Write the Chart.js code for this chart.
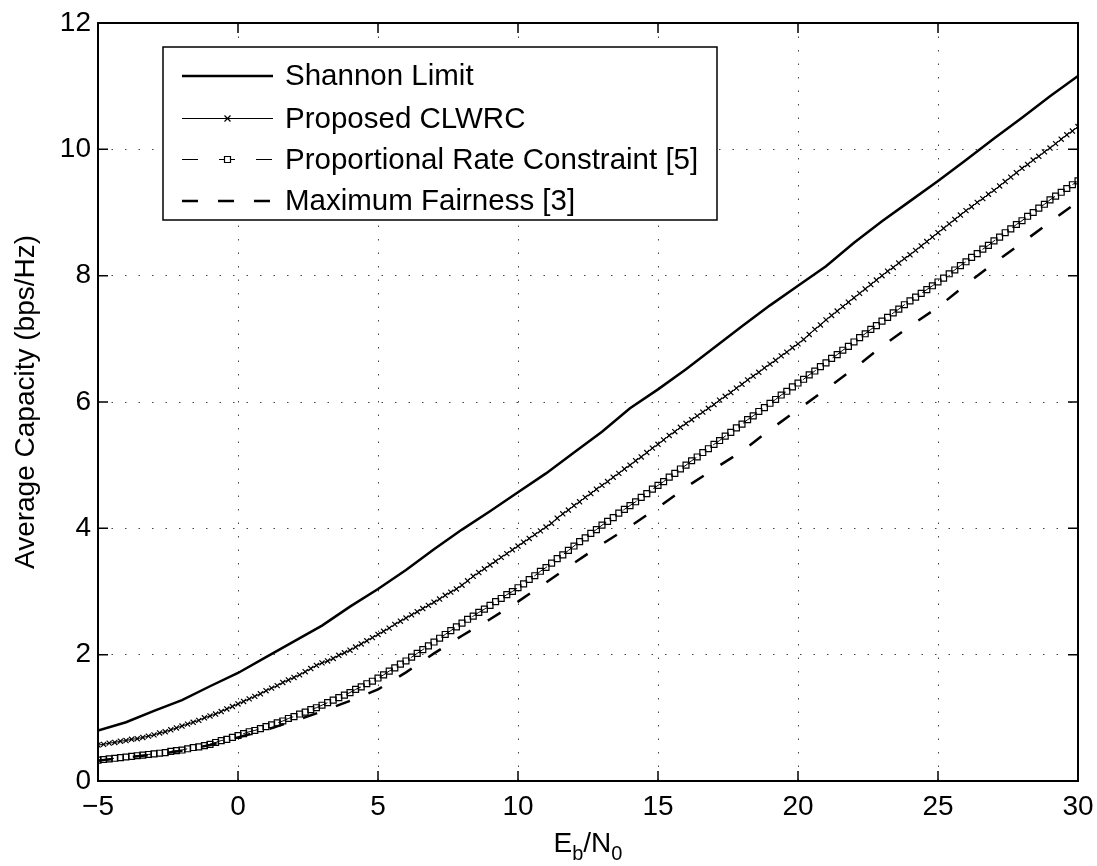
<!DOCTYPE html>
<html>
<head>
<meta charset="utf-8">
<title>Average Capacity vs Eb/N0</title>
<script src="https://cdn.jsdelivr.net/npm/chart.js@4"></script>
<style>
  html, body { margin: 0; padding: 0; background: #fff; }
  #wrap { width: 1097px; height: 866px; }
</style>
</head>
<body>
<div id="wrap"><canvas id="capacityChart" width="1097" height="866"></canvas></div>
<script>
// -----Data
  // Eb/N0 in dB, 1 dB grid (Shannon limit and max fairness curves)
  var ebn0Coarse = [-5, -4, -3, -2, -1, 0, 1, 2, 3, 4, 5, 6, 7, 8, 9, 10, 11, 12, 13, 14, 15,
    16, 17, 18, 19, 20, 21, 22, 23, 24, 25, 26, 27, 28, 29, 30]

  var shannonLimit = [0.80, 0.93, 1.11, 1.28, 1.50, 1.71, 1.96, 2.21, 2.46, 2.76, 3.04,
    3.34, 3.67, 3.98, 4.27, 4.57, 4.87, 5.20, 5.53, 5.90, 6.20,
    6.52, 6.86, 7.20, 7.53, 7.84, 8.15, 8.52, 8.86, 9.18, 9.50,
    9.83, 10.17, 10.50, 10.84, 11.16]

  var maxFairness = [0.32, 0.37, 0.42, 0.48, 0.57, 0.69, 0.81, 0.95, 1.10, 1.27, 1.45,
    1.72, 2.02, 2.30, 2.56, 2.84, 3.14, 3.45, 3.75, 4.03, 4.33,
    4.65, 4.94, 5.22, 5.56, 5.88, 6.20, 6.53, 6.88, 7.20, 7.50,
    7.86, 8.20, 8.52, 8.85, 9.17]

  // Eb/N0 in dB, 0.2 dB grid (the two marked curves)
  var ebn0Fine = [
    -5, -4.8, -4.6, -4.4, -4.2, -4, -3.8, -3.6, -3.4, -3.2,
    -3, -2.8, -2.6, -2.4, -2.2, -2, -1.8, -1.6, -1.4, -1.2,
    -1, -0.8, -0.6, -0.4, -0.2, 0, 0.2, 0.4, 0.6, 0.8,
    1, 1.2, 1.4, 1.6, 1.8, 2, 2.2, 2.4, 2.6, 2.8,
    3, 3.2, 3.4, 3.6, 3.8, 4, 4.2, 4.4, 4.6, 4.8,
    5, 5.2, 5.4, 5.6, 5.8, 6, 6.2, 6.4, 6.6, 6.8,
    7, 7.2, 7.4, 7.6, 7.8, 8, 8.2, 8.4, 8.6, 8.8,
    9, 9.2, 9.4, 9.6, 9.8, 10, 10.2, 10.4, 10.6, 10.8,
    11, 11.2, 11.4, 11.6, 11.8, 12, 12.2, 12.4, 12.6, 12.8,
    13, 13.2, 13.4, 13.6, 13.8, 14, 14.2, 14.4, 14.6, 14.8,
    15, 15.2, 15.4, 15.6, 15.8, 16, 16.2, 16.4, 16.6, 16.8,
    17, 17.2, 17.4, 17.6, 17.8, 18, 18.2, 18.4, 18.6, 18.8,
    19, 19.2, 19.4, 19.6, 19.8, 20, 20.2, 20.4, 20.6, 20.8,
    21, 21.2, 21.4, 21.6, 21.8, 22, 22.2, 22.4, 22.6, 22.8,
    23, 23.2, 23.4, 23.6, 23.8, 24, 24.2, 24.4, 24.6, 24.8,
    25, 25.2, 25.4, 25.6, 25.8, 26, 26.2, 26.4, 26.6, 26.8,
    27, 27.2, 27.4, 27.6, 27.8, 28, 28.2, 28.4, 28.6, 28.8,
    29, 29.2, 29.4, 29.6, 29.8, 30]

  var proposedClwrc = [
    0.57, 0.58, 0.60, 0.61, 0.63, 0.64, 0.66, 0.67, 0.69, 0.71,
    0.73, 0.76, 0.78, 0.81, 0.84, 0.87, 0.90, 0.93, 0.96, 1.00,
    1.03, 1.06, 1.10, 1.14, 1.18, 1.22, 1.26, 1.30, 1.34, 1.38,
    1.43, 1.47, 1.51, 1.56, 1.60, 1.64, 1.68, 1.73, 1.78, 1.83,
    1.87, 1.90, 1.94, 1.99, 2.03, 2.07, 2.12, 2.17, 2.22, 2.27,
    2.32, 2.37, 2.42, 2.48, 2.53, 2.58, 2.63, 2.68, 2.73, 2.78,
    2.83, 2.88, 2.94, 2.99, 3.04, 3.10, 3.17, 3.24, 3.30, 3.36,
    3.42, 3.48, 3.54, 3.60, 3.66, 3.72, 3.78, 3.84, 3.90, 3.96,
    4.02, 4.08, 4.16, 4.23, 4.29, 4.36, 4.42, 4.49, 4.55, 4.62,
    4.68, 4.74, 4.81, 4.87, 4.94, 5.00, 5.07, 5.13, 5.20, 5.27,
    5.33, 5.40, 5.47, 5.53, 5.60, 5.66, 5.72, 5.78, 5.84, 5.90,
    5.96, 6.03, 6.09, 6.15, 6.22, 6.28, 6.35, 6.41, 6.47, 6.54,
    6.60, 6.66, 6.73, 6.79, 6.86, 6.92, 6.99, 7.07, 7.15, 7.22,
    7.30, 7.37, 7.44, 7.51, 7.58, 7.65, 7.72, 7.79, 7.86, 7.93,
    8.00, 8.07, 8.13, 8.20, 8.27, 8.33, 8.40, 8.47, 8.54, 8.61,
    8.68, 8.75, 8.82, 8.89, 8.96, 9.03, 9.09, 9.16, 9.22, 9.29,
    9.35, 9.42, 9.49, 9.56, 9.63, 9.70, 9.76, 9.83, 9.89, 9.96,
    10.02, 10.09, 10.16, 10.23, 10.29, 10.36]

  var proportionalRate = [
    0.33, 0.34, 0.35, 0.36, 0.37, 0.38, 0.39, 0.40, 0.41, 0.42,
    0.43, 0.44, 0.45, 0.47, 0.48, 0.49, 0.51, 0.53, 0.54, 0.56,
    0.58, 0.61, 0.64, 0.66, 0.69, 0.72, 0.75, 0.78, 0.80, 0.83,
    0.86, 0.89, 0.92, 0.95, 0.99, 1.02, 1.06, 1.09, 1.13, 1.16,
    1.20, 1.24, 1.28, 1.32, 1.36, 1.40, 1.45, 1.49, 1.54, 1.58,
    1.63, 1.68, 1.74, 1.79, 1.85, 1.90, 1.96, 2.02, 2.08, 2.14,
    2.20, 2.26, 2.32, 2.38, 2.44, 2.50, 2.56, 2.61, 2.67, 2.72,
    2.78, 2.84, 2.89, 2.95, 3.00, 3.06, 3.12, 3.19, 3.25, 3.32,
    3.38, 3.45, 3.52, 3.58, 3.65, 3.72, 3.79, 3.85, 3.92, 3.98,
    4.05, 4.11, 4.17, 4.24, 4.30, 4.36, 4.42, 4.49, 4.55, 4.62,
    4.68, 4.74, 4.81, 4.87, 4.94, 5.00, 5.07, 5.13, 5.20, 5.26,
    5.33, 5.39, 5.46, 5.52, 5.59, 5.65, 5.72, 5.78, 5.85, 5.91,
    5.98, 6.04, 6.11, 6.17, 6.24, 6.30, 6.36, 6.43, 6.49, 6.56,
    6.62, 6.69, 6.75, 6.82, 6.88, 6.95, 7.02, 7.08, 7.15, 7.21,
    7.28, 7.34, 7.41, 7.47, 7.54, 7.60, 7.66, 7.72, 7.78, 7.84,
    7.90, 7.96, 8.03, 8.09, 8.16, 8.22, 8.29, 8.35, 8.42, 8.48,
    8.55, 8.61, 8.68, 8.74, 8.81, 8.87, 8.94, 9.00, 9.07, 9.13,
    9.20, 9.26, 9.32, 9.38, 9.44, 9.50]

  var xTickValues = [-5, 0, 5, 10, 15, 20, 25, 30]
  var yTickValues = [0, 2, 4, 6, 8, 10, 12]

  var seriesLabels = ['Shannon Limit', 'Proposed CLWRC', 'Proportional Rate Constraint [5]', 'Maximum Fairness [3]']

// -----Helpers
  var FONT = "'Liberation Sans', Arial, Helvetica, sans-serif"

  function toPoints(xs, ys) {
    return xs.map(function(x, i) { return { x: x, y: ys[i] } })
  }

  function drawMarker(ctx, style, x, y) {
    ctx.save()
    ctx.setLineDash([])
    ctx.lineWidth = 1.2
    ctx.strokeStyle = '#000'
    ctx.beginPath()
    if (style === 'crossRot') {
      ctx.moveTo(x - 3, y - 3); ctx.lineTo(x + 3, y + 3)
      ctx.moveTo(x - 3, y + 3); ctx.lineTo(x + 3, y - 3)
      ctx.stroke()
    } else if (style === 'rect') {
      ctx.fillStyle = '#fff'
      ctx.rect(x - 3, y - 3, 6, 6)
      ctx.fill()
      ctx.stroke()
    }
    ctx.restore()
  }

// -----Frame, inward ticks, legend box and x title
  var axesExtras = {
    id: 'axesExtras',
    afterDraw: function(chart) {
      var ctx = chart.ctx
      var a = chart.chartArea
      var sx = chart.scales.x
      var sy = chart.scales.y
      ctx.save()
      ctx.setLineDash([])
      ctx.strokeStyle = '#000'

      // ticks point inward on all four sides
      ctx.lineWidth = 1.5
      ctx.beginPath()
      xTickValues.forEach(function(v) {
        var px = sx.getPixelForValue(v)
        ctx.moveTo(px, a.bottom); ctx.lineTo(px, a.bottom - 10)
        ctx.moveTo(px, a.top); ctx.lineTo(px, a.top + 10)
      })
      yTickValues.forEach(function(v) {
        var py = sy.getPixelForValue(v)
        ctx.moveTo(a.left, py); ctx.lineTo(a.left + 10, py)
        ctx.moveTo(a.right, py); ctx.lineTo(a.right - 10, py)
      })
      ctx.stroke()

      ctx.lineWidth = 2
      ctx.strokeRect(a.left, a.top, a.right - a.left, a.bottom - a.top)

      // legend
      var box = { x: 163, y: 47, w: 554, h: 173 }
      ctx.fillStyle = '#fff'
      ctx.fillRect(box.x, box.y, box.w, box.h)
      ctx.lineWidth = 1.5
      ctx.strokeRect(box.x, box.y, box.w, box.h)
      ctx.font = '29.5px ' + FONT
      ctx.textBaseline = 'middle'
      ctx.textAlign = 'left'
      chart.data.datasets.forEach(function(ds, i) {
        var rowY = Math.round(76 + i * 41.5) + (ds.borderWidth < 2 ? 0.5 : 0)
        ctx.save()
        ctx.strokeStyle = '#000'
        ctx.lineWidth = ds.borderWidth
        ctx.setLineDash(ds.legendDash || [])
        ctx.beginPath()
        ctx.moveTo(182, rowY)
        ctx.lineTo(273, rowY)
        ctx.stroke()
        ctx.restore()
        if (ds.pointRadius > 0) drawMarker(ctx, ds.pointStyle, 227.5, rowY)
        ctx.fillStyle = '#000'
        ctx.fillText(ds.label, 285, rowY + 1)
      })

      // x title  E_b/N_0
      var big = '28px ' + FONT
      var small = '20px ' + FONT
      var parts = [['E', big, 0], ['b', small, 8], ['/N', big, 0], ['0', small, 8]]
      var total = 0
      parts.forEach(function(p) { ctx.font = p[1]; total += ctx.measureText(p[0]).width })
      var cx = (a.left + a.right) / 2 - total / 2
      ctx.textBaseline = 'alphabetic'
      ctx.fillStyle = '#000'
      parts.forEach(function(p) {
        ctx.font = p[1]
        ctx.fillText(p[0], cx, 852 + p[2])
        cx += ctx.measureText(p[0]).width
      })
      ctx.restore()
    }
  }

// -----Chart
  var ctx = document.getElementById('capacityChart')
  var capacityChart = new Chart(ctx, {
    type: 'line',
    data: {
      datasets: [{
        label: seriesLabels[0],
        data: toPoints(ebn0Coarse, shannonLimit),
        borderColor: '#000',
        borderWidth: 2.5,
        pointRadius: 0,
        fill: false
      }, {
        label: seriesLabels[1],
        data: toPoints(ebn0Fine, proposedClwrc),
        borderColor: '#000',
        borderWidth: 1,
        pointStyle: 'crossRot',
        pointRadius: 3.6,
        pointBorderWidth: 1.2,
        pointBorderColor: '#000',
        pointBackgroundColor: '#000',
        fill: false
      }, {
        label: seriesLabels[2],
        data: toPoints(ebn0Fine, proportionalRate),
        borderColor: '#000',
        borderWidth: 1,
        borderDash: [16, 21],
        legendDash: [16, 21],
        pointStyle: 'rect',
        pointRadius: 4.2,
        pointBorderWidth: 1.2,
        pointBorderColor: '#000',
        pointBackgroundColor: 'rgba(255,255,255,0)',
        fill: false
      }, {
        label: seriesLabels[3],
        data: toPoints(ebn0Coarse, maxFairness),
        borderColor: '#000',
        borderWidth: 2.5,
        borderDash: [15, 20],
        legendDash: [16, 20],
        pointRadius: 0,
        fill: false
      }]
    },
    options: {
      responsive: false,
      animation: false,
      layout: { padding: { top: 23, right: 19, left: 0, bottom: 0 } },
      plugins: {
        legend: { display: false },
        tooltip: { enabled: false }
      },
      scales: {
        x: {
          type: 'linear',
          min: -5,
          max: 30,
          afterBuildTicks: function(axis) {
            axis.ticks = xTickValues.map(function(v) { return { value: v } })
          },
          afterFit: function(axis) {
            axis.height = 85
            axis.paddingLeft = 0
            axis.paddingRight = 0
          },
          ticks: {
            color: '#000',
            font: { family: FONT, size: 28 },
            padding: 9,
            maxRotation: 0,
            callback: function(v) { return String(v).replace('-', '\u2212') }
          },
          grid: { color: '#444', lineWidth: 1, drawTicks: false },
          border: { display: false, dash: [1.5, 12] },
          title: { display: false }
        },
        y: {
          type: 'linear',
          min: 0,
          max: 12,
          afterBuildTicks: function(axis) {
            axis.ticks = yTickValues.map(function(v) { return { value: v } })
          },
          afterFit: function(axis) {
            axis.width = 98
            axis.paddingTop = 0
            axis.paddingBottom = 0
          },
          ticks: {
            color: '#000',
            font: { family: FONT, size: 28 },
            padding: 7
          },
          grid: { color: '#444', lineWidth: 1, drawTicks: false },
          border: { display: false, dash: [1.5, 12] },
          title: {
            display: true,
            text: 'Average Capacity (bps/Hz)',
            color: '#000',
            font: { family: FONT, size: 28 },
            padding: { top: 9, bottom: 0 }
          }
        }
      }
    },
    plugins: [axesExtras]
  })
</script>
</body>
</html>
